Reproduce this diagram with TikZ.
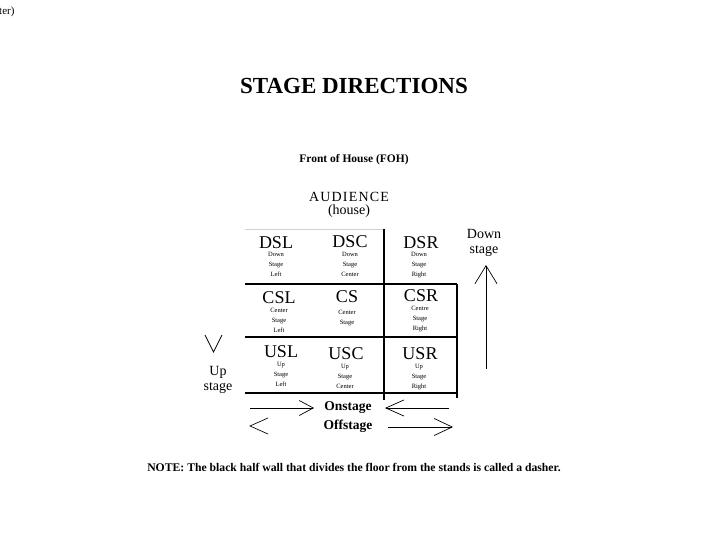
\documentclass[tikz,border=0pt]{standalone}
\usepackage{fontspec}
\setmainfont{Liberation Serif}
\usetikzlibrary{arrows.meta}
\begin{document}
\begin{tikzpicture}[x=1pt,y=-1pt,
  big/.style={font=\fontsize{18}{18}\selectfont, inner sep=0pt},
  small/.style={font=\fontsize{6.5}{10}\selectfont, align=center, inner sep=0pt},
  side/.style={font=\fontsize{14}{14.5}\selectfont, align=center, inner sep=0pt},
  gridline/.style={line width=1.1pt, black},
  thin/.style={line width=0.7pt, black}]
\useasboundingbox (0,0) rectangle (720,540);
\fill[white] (0,0) rectangle (720,540);

\node[anchor=west, inner sep=0pt, font=\fontsize{11}{11}\selectfont] (frag) at (-1,12) {ter)};
\node[inner sep=0pt, font=\fontsize{23}{23}\bfseries\selectfont] (title) at (354,86) {STAGE DIRECTIONS};
\node[inner sep=0pt, font=\fontsize{11.5}{11.5}\bfseries\selectfont] (foh) at (354,160) {Front of House (FOH)};
\node[inner sep=0pt, font=\fontsize{14}{14}\selectfont, align=center] (aud) at (349,205) {A\kern1.2pt U\kern1.2pt D\kern1.2pt I\kern1.2pt E\kern1.2pt N\kern1.2pt C\kern1.2pt E\\[-1pt](house)};

% grid
\coordinate (tl) at (245,229);
\coordinate (tm) at (384,229);
\coordinate (r1l) at (245,284);
\coordinate (r1r) at (457,284);
\coordinate (r2l) at (245,337);
\coordinate (r2r) at (457,337);
\coordinate (bl) at (245,393);
\coordinate (br) at (457,393);
\coordinate (vb) at (384,400);
\coordinate (rb) at (457,398);
\draw[line width=0.6pt, black!18] (tl) -- (tm);
\draw[gridline] (r1l) -- (r1r);
\draw[gridline] (r2l) -- (r2r);
\draw[gridline] (bl) -- (br);
\draw[gridline] (tm) -- (vb);
\draw[gridline] (r1r) -- (rb);

% cells
\node[big] (dsl) at (276,243) {DSL};
\node[small, anchor=north] (dslt) at (276,252) {Down\\Stage\\Left};
\node[big] (dsc) at (350,242) {DSC};
\node[small, anchor=north] (dsct) at (350,252) {Down\\Stage\\Center};
\node[big] (dsr) at (421,243) {DSR};
\node[small, anchor=north] (dsrt) at (419,252) {Down\\Stage\\Right};

\node[big] (csl) at (279,298) {CSL};
\node[small, anchor=north] (cslt) at (279,308) {Center\\Stage\\Left};
\node[big] (cs) at (347,297) {CS};
\node[small, anchor=north] (cst) at (347,310) {Center\\Stage};
\node[big] (csr) at (421,296) {CSR};
\node[small, anchor=north] (csrt) at (420,306) {Centre\\Stage\\Right};

\node[big] (usl) at (281,352) {USL};
\node[small, anchor=north] (uslt) at (281,362) {Up\\Stage\\Left};
\node[big] (usc) at (346,354) {USC};
\node[small, anchor=north] (usct) at (345,364) {Up\\Stage\\Center};
\node[big] (usr) at (420,354) {USR};
\node[small, anchor=north] (usrt) at (419,364) {Up\\Stage\\Right};

% down stage
\node[side] (down) at (484,243) {Down\\stage};
\coordinate (dbot) at (486,369);
\coordinate (dtop) at (486,265);
\draw[thin, -{Straight Barb[length=18pt,width=22pt,line width=0.7pt]}] (dbot) -- (dtop);

% up stage
\node[side] (up) at (218,380) {Up\\stage};
\coordinate (v1) at (205,335);
\coordinate (v2) at (213.5,352);
\coordinate (v3) at (222,335);
\draw[thin] (v1) -- (v2) -- (v3);

% onstage / offstage
\node[inner sep=0pt, font=\fontsize{13.5}{13.5}\bfseries\selectfont] (on) at (348,408) {Onstage};
\node[inner sep=0pt, font=\fontsize{13.5}{13.5}\bfseries\selectfont] (off) at (348,426) {Offstage};
\coordinate (ol1) at (250,408);
\coordinate (ol2) at (314,408);
\draw[thin, -{Straight Barb[length=14pt,width=15pt,line width=0.7pt]}] (ol1) -- (ol2);
\coordinate (or1) at (449,408);
\coordinate (or2) at (385,408);
\draw[thin, -{Straight Barb[length=18pt,width=16pt,line width=0.7pt]}] (or1) -- (or2);
\coordinate (fl1) at (268,418);
\coordinate (fl2) at (250,426);
\coordinate (fl3) at (268,434);
\draw[thin] (fl1) -- (fl2) -- (fl3);
\coordinate (fr1) at (388,427);
\coordinate (fr2) at (453,427);
\draw[thin, -{Straight Barb[length=18pt,width=17pt,line width=0.7pt]}] (fr1) -- (fr2);

\node[inner sep=0pt, font=\fontsize{11.7}{11.7}\bfseries\selectfont] (note) at (354,467) {NOTE: The black half wall that divides the floor from the stands is called a dasher.};
\end{tikzpicture}
\end{document}
